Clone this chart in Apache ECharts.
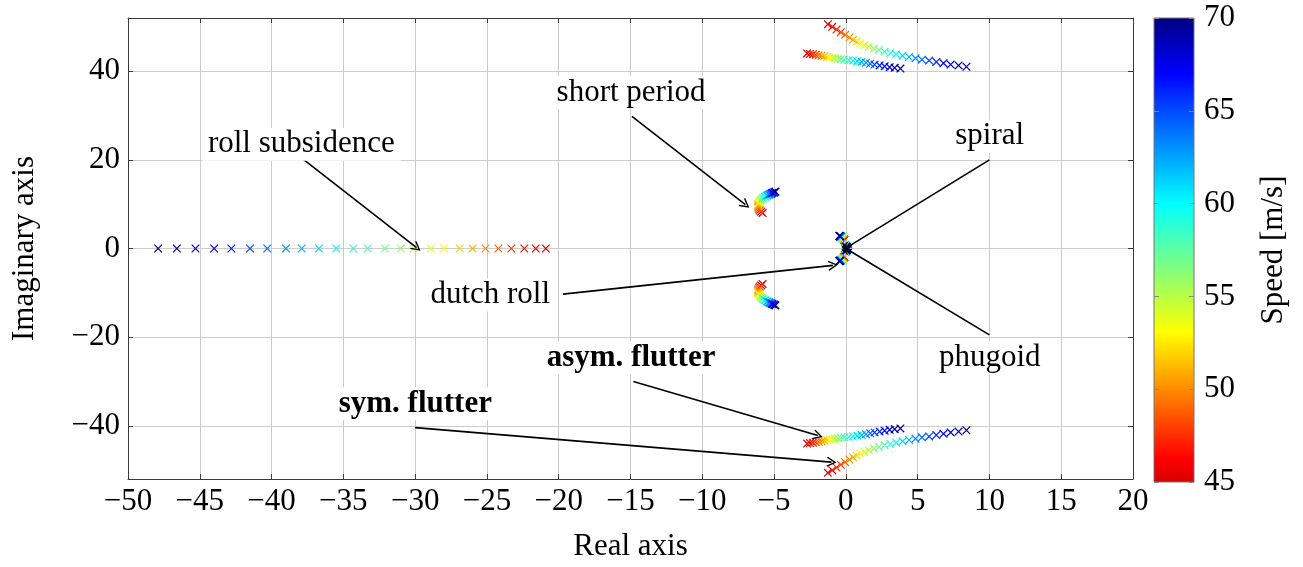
<!DOCTYPE html>
<html><head><meta charset="utf-8">
<script src="https://cdn.jsdelivr.net/npm/echarts@6/dist/echarts.min.js"></script>
<style>html,body{margin:0;padding:0;background:#fff}#c{width:1303px;height:567px}</style>
</head><body><div id="c"></div>
<script>
// ---- data ----
const speeds = [45,46,47,48,49,50,51,52,53,54,55,56,57,58,59,60,61,62,63,64,65,66,67,68,69,70];
const rollRe = [-20.9,-21.6,-22.4,-23.3,-24.2,-25.1,-26.0,-26.9,-28.0,-28.9,-30.1,-31.0,-32.1,-33.3,-34.3,-35.5,-36.7,-37.9,-39.0,-40.3,-41.5,-42.8,-44.0,-45.3,-46.6,-47.9];
const symFlutRe = [-1.25,-0.95,-0.65,-0.35,-0.05,0.25,0.5,0.75,1.0,1.3,1.6,1.95,2.3,2.7,3.1,3.5,3.95,4.4,4.85,5.3,5.8,6.3,6.8,7.3,7.85,8.4];
const symFlutIm = [50.6,50.0,49.4,48.8,48.2,47.6,47.1,46.7,46.3,45.9,45.5,45.1,44.8,44.4,44.1,43.8,43.5,43.2,42.9,42.6,42.4,42.1,41.8,41.5,41.3,41.0];
const asymFlutRe = [-2.7,-2.5,-2.3,-2.1,-1.9,-1.7,-1.5,-1.3,-1.1,-0.9,-0.75,-0.55,-0.35,-0.1,0.2,0.5,0.8,1.1,1.4,1.7,2.0,2.35,2.7,3.05,3.4,3.8];
const asymFlutIm = [44.0,43.9,43.8,43.7,43.6,43.5,43.35,43.2,43.1,43.0,42.9,42.8,42.7,42.6,42.5,42.4,42.25,42.1,41.9,41.7,41.5,41.3,41.1,40.9,40.75,40.6];
const shortRe = [-5.8,-5.9,-6.0,-6.05,-6.1,-6.1,-6.1,-6.1,-6.05,-6.0,-5.95,-5.9,-5.8,-5.75,-5.65,-5.6,-5.5,-5.45,-5.35,-5.3,-5.2,-5.15,-5.1,-5.0,-4.95,-4.9];
const shortIm = [8.0,8.3,8.6,8.9,9.2,9.5,9.8,10.1,10.4,10.6,10.85,11.05,11.25,11.45,11.6,11.75,11.9,12.0,12.15,12.25,12.35,12.45,12.55,12.65,12.75,12.85];
const dutchRe = [-0.1,-0.12,-0.13,-0.15,-0.16,-0.18,-0.19,-0.21,-0.22,-0.24,-0.25,-0.27,-0.28,-0.3,-0.31,-0.33,-0.34,-0.36,-0.37,-0.38,-0.39,-0.4,-0.42,-0.43,-0.44,-0.45];
const dutchIm = [1.9,1.95,2.0,2.05,2.1,2.15,2.2,2.25,2.3,2.35,2.4,2.44,2.48,2.52,2.56,2.6,2.63,2.66,2.69,2.72,2.74,2.76,2.78,2.8,2.82,2.85];
const spiralRe = [-0.05,-0.04,-0.03,-0.02,-0.01,0.0,0.01,0.02,0.03,0.035,0.04,0.045,0.05,0.055,0.06,0.065,0.07,0.075,0.08,0.085,0.09,0.095,0.1,0.105,0.11,0.12];
const phugRe = [-0.02,-0.018,-0.015,-0.012,-0.01,-0.008,-0.005,-0.002,0.0,0.002,0.005,0.008,0.01,0.012,0.015,0.018,0.02,0.023,0.026,0.03,0.033,0.036,0.04,0.043,0.046,0.05];
const phugIm = [0.8,0.78,0.76,0.74,0.72,0.7,0.68,0.66,0.64,0.62,0.6,0.58,0.56,0.54,0.52,0.5,0.48,0.46,0.44,0.42,0.4,0.38,0.36,0.34,0.32,0.3];

const xTickValues = [-50,-45,-40,-35,-30,-25,-20,-15,-10,-5,0,5,10,15,20];
const yTickValues = [-40,-20,0,20,40];
const cbTickValues = [45,50,55,60,65,70];

const annoLabels = [
  {text:'roll subsidence', at:[-37.93, 23.54], bold:false},
  {text:'short period', at:[-14.96, 35.2], bold:false},
  {text:'spiral', at:[10.02, 25.3], bold:false},
  {text:'dutch roll', at:[-24.77, -10.5], bold:false},
  {text:'phugoid', at:[10.02, -24.7], bold:false},
  {text:'asym. flutter', at:[-14.96, -24.7], bold:true},
  {text:'sym. flutter', at:[-29.99, -35.0], bold:true}
];
const annoArrows = [
  [[-38.1, 20.9], [-29.9, 0.2]],
  [[-14.9, 29.8], [-7.0, 9.9]],
  [[10.0, 20.0], [0.0, 0.1]],
  [[-19.7, -10.3], [-0.9, -3.8]],
  [[10.0, -19.5], [0.0, 0.0]],
  [[-14.8, -30.0], [-1.95, -42.2]],
  [[-30.0, -40.4], [-1.0, -48.2]]
];

// colormap (speed -> rgb)
const cmapStops = [[45,[215,0,0]],[46.3,[255,0,0]],[53.1,[255,255,0]],[60,[0,255,255]],[67,[0,0,255]],[70,[0,0,130]]];
function cmap(v){
  if (v <= cmapStops[0][0]) return 'rgb('+cmapStops[0][1].join(',')+')';
  for (let i=1;i<cmapStops.length;i++){
    const [v1,c1]=cmapStops[i];
    const [v0,c0]=cmapStops[i-1];
    if (v<=v1){
      const t=(v-v0)/(v1-v0);
      return 'rgb('+c0.map((c,k)=>Math.round(c+(c1[k]-c)*t)).join(',')+')';
    }
  }
  return 'rgb('+cmapStops[cmapStops.length-1][1].join(',')+')';
}

// ---- build ----
const pts = [];
function addMode(re, im, conj){
  speeds.forEach((s,i)=>{
    const y = im ? im[i] : 0;
    pts.push([re[i], y, s]);
    if (conj && im) pts.push([re[i], -y, s]);
  });
}
addMode(rollRe, null, false);
addMode(spiralRe, null, false);
addMode(phugRe, phugIm, true);
addMode(dutchRe, dutchIm, true);
addMode(shortRe, shortIm, true);
addMode(asymFlutRe, asymFlutIm, true);
addMode(symFlutRe, symFlutIm, true);
pts.sort((a,b)=>a[2]-b[2]);

const FONT = 'Liberation Serif';
const FS = 31;
const minus = v => String(v).replace('-', '\u2212');
const xMark = 'path://M0,1L1,0L10,9L9,10Z M9,0L10,1L1,10L0,9Z';
const arrowHead = 'path://M5,0L10,8.6L9,9.6L5,2.6L1,9.6L0,8.6Z';

const cbMin = cbTickValues[0], cbMax = cbTickValues[cbTickValues.length-1];
const gradStops = cmapStops.map(([v,c])=>({offset:(cbMax-v)/(cbMax-cbMin), color:'rgb('+c.join(',')+')'})).reverse();

const chart = echarts.init(document.getElementById('c'), null, {renderer:'canvas'});
const frameColor = '#3a3a3a';
const gridColor = '#cccccc';
const textStyle = {fontFamily: FONT, fontSize: FS, color:'#000'};

chart.setOption({
  animation:false,
  backgroundColor:'#fff',
  textStyle:{fontFamily:FONT},
  grid:[
    {left:128, right:170, top:18, bottom:85},
    {left:1154, width:40, top:18, bottom:85}
  ],
  xAxis:[
    {type:'value', gridIndex:0, position:'bottom', min:xTickValues[0], max:xTickValues[xTickValues.length-1], interval:5,
     axisLine:{show:true, onZero:false, lineStyle:{color:frameColor, width:1}},
     axisTick:{show:true, inside:true, length:5, lineStyle:{color:frameColor}},
     axisLabel:Object.assign({formatter:minus, margin:7}, textStyle),
     splitLine:{show:true, lineStyle:{color:gridColor, width:1}},
     name:'Real axis', nameLocation:'middle', nameGap:52, nameTextStyle:textStyle},
    {type:'value', gridIndex:0, position:'top', min:xTickValues[0], max:xTickValues[xTickValues.length-1], interval:5,
     axisLine:{show:true, onZero:false, lineStyle:{color:frameColor, width:1}},
     axisTick:{show:true, inside:true, length:5, lineStyle:{color:frameColor}},
     axisLabel:{show:false}, splitLine:{show:false}},
    {type:'category', gridIndex:1, data:[''], show:false, boundaryGap:true}
  ],
  yAxis:[
    {type:'value', gridIndex:0, position:'left', min:-52, max:52,
     axisLine:{show:true, onZero:false, lineStyle:{color:frameColor, width:1}},
     axisTick:{show:true, inside:true, length:5, customValues:yTickValues, lineStyle:{color:frameColor}},
     axisLabel:Object.assign({formatter:minus, margin:8, customValues:yTickValues}, textStyle),
     splitLine:{show:true, lineStyle:{color:gridColor, width:1}},
     name:'Imaginary axis', nameLocation:'middle', nameGap:88, nameRotate:90, nameTextStyle:textStyle},
    {type:'value', gridIndex:0, position:'right', min:-52, max:52,
     axisLine:{show:true, onZero:false, lineStyle:{color:frameColor, width:1}},
     axisTick:{show:true, inside:true, length:5, customValues:yTickValues, lineStyle:{color:frameColor}},
     axisLabel:{show:false}, splitLine:{show:false}},
    {type:'value', gridIndex:1, position:'right', min:cbMin, max:cbMax, interval:5, z:5,
     axisLine:{show:false},
     axisTick:{show:true, inside:true, length:5, lineStyle:{color:'#888'}},
     axisLabel:Object.assign({margin:10}, textStyle),
     splitLine:{show:false},
     name:'Speed [m/s]', nameLocation:'middle', nameGap:64, nameRotate:90, nameTextStyle:textStyle},
    {type:'value', gridIndex:1, position:'left', min:cbMin, max:cbMax, interval:5, z:5,
     axisLine:{show:false},
     axisTick:{show:true, inside:true, length:5, lineStyle:{color:'#888'}},
     axisLabel:{show:false}, splitLine:{show:false}}
  ],
  series:[
    {type:'scatter', xAxisIndex:0, yAxisIndex:0, data:pts, symbol:xMark, symbolSize:8.5,
     itemStyle:{opacity:1, color: p => cmap(p.value[2])}, z:3},
    {type:'scatter', xAxisIndex:0, yAxisIndex:0, symbolSize:0, z:6,
     itemStyle:{opacity:1},
     data: annoLabels.map(a=>({name:a.text, value:a.at, label:{fontWeight: a.bold?'bold':'normal'}})),
     label:Object.assign({show:true, position:'inside', formatter:p=>p.name, backgroundColor:'#fff', padding:[1,6]}, textStyle),
     markLine:{silent:true, symbol:['none', arrowHead], symbolSize:[10,10], animation:false,
       lineStyle:{color:'#000', width:1.6, type:'solid', opacity:1}, label:{show:false},
       data: annoArrows.map(a=>[{coord:a[0]},{coord:a[1]}])}
    },
    {type:'custom', xAxisIndex:2, yAxisIndex:2, z:1, data:[[0, cbMin, cbMax]],
     renderItem:(params, api)=>{
       const top = api.coord([api.value(0), api.value(2)]);
       const bot = api.coord([api.value(0), api.value(1)]);
       const w = api.size([1,0])[0];
       return {type:'rect', shape:{x:top[0]-w/2, y:top[1], width:w, height:bot[1]-top[1]},
         style:{fill:new echarts.graphic.LinearGradient(0,0,0,1,gradStops), stroke:'#777', lineWidth:1}};
     }}
  ]
});
</script></body></html>
